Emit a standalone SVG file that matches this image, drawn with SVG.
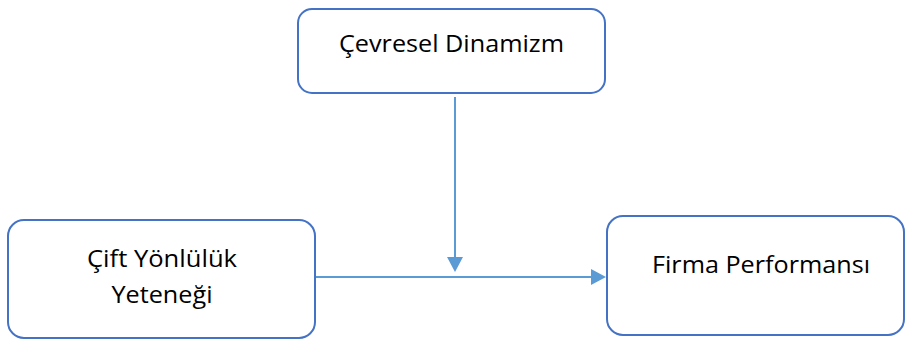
<svg xmlns="http://www.w3.org/2000/svg" width="906" height="340" viewBox="0 0 906 340">
<defs>
<style>
.box{fill:#fff;stroke:#4472C4;stroke-width:2}
.t{font-family:"Open Sans","Liberation Sans",sans-serif;font-size:24px;fill:#000;text-anchor:middle}
.c{stroke:#5B9BD5;stroke-width:2;fill:none}
</style>
</defs>
<rect width="906" height="340" fill="#fff"/>
<g id="connectors">
<line class="c" x1="455" y1="97" x2="455" y2="258"/>
<path d="M447,257 L463,257 L455,272 Z" fill="#5B9BD5"/>
<line class="c" x1="315" y1="277" x2="592" y2="277"/>
<path d="M591,269 L606,277 L591,285 Z" fill="#5B9BD5"/>
</g>
<g id="cevresel">
<rect class="box" x="298" y="9" width="307" height="84" rx="14"/>
<text class="t" x="451.5" y="52" textLength="225" lengthAdjust="spacingAndGlyphs">Çevresel Dinamizm</text>
</g>
<g id="cift">
<rect class="box" x="8" y="220" width="307" height="118" rx="16"/>
<text class="t" x="162" y="267" textLength="150" lengthAdjust="spacingAndGlyphs">Çift Yönlülük</text>
<text class="t" x="162" y="303" textLength="101" lengthAdjust="spacingAndGlyphs">Yeteneği</text>
</g>
<g id="firma">
<rect class="box" x="607" y="216" width="297" height="119" rx="16"/>
<text class="t" x="761" y="273" textLength="218" lengthAdjust="spacingAndGlyphs">Firma Performansı</text>
</g>
</svg>
